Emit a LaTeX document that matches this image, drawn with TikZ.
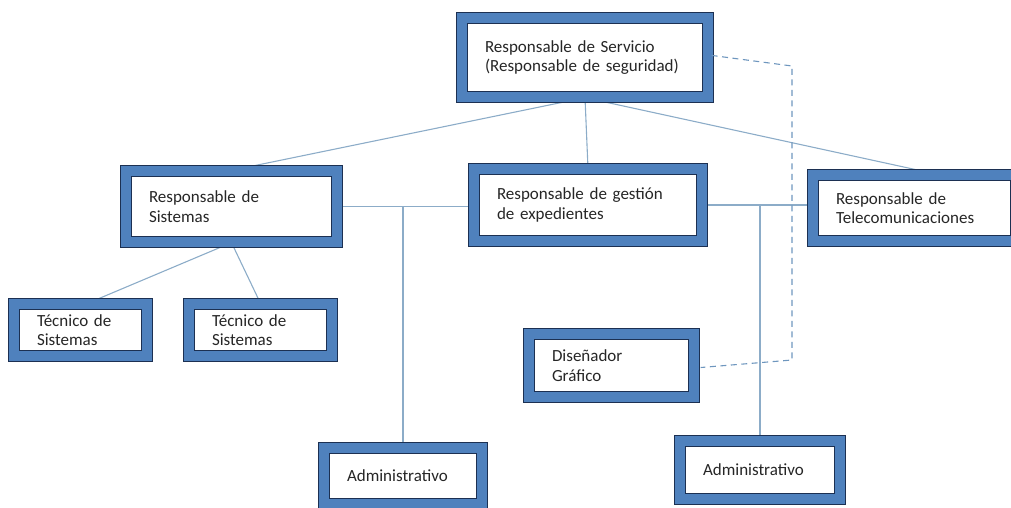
\documentclass[tikz,border=0pt]{standalone}
\usepackage{fontspec}
\setmainfont{Carlito}
\usetikzlibrary{backgrounds}
\definecolor{banda}{RGB}{79,129,189}
\definecolor{marino}{RGB}{28,48,82}
\definecolor{linea}{RGB}{140,172,200}
\definecolor{trazo}{RGB}{110,150,190}

\begin{document}
\begin{tikzpicture}[x = 1pt, y = -1pt,
                        puesto/.style = {rectangle, draw = marino, line width = 1.3pt, double = banda, double distance = 9.4pt,
                                         fill = white, align = left, inner xsep = 23pt, inner ysep = 0pt, text = black!85,
                                         font = \fontsize{17}{19.5}\selectfont},
                        enlace/.style = {draw = linea, line width = 1.1pt}]
    \useasboundingbox (0, 0) rectangle (1011, 507);
    \node [puesto, text width = 200pt, minimum height = 79pt] (serv) at (585, 57.5){Responsable de Servicio\\(Responsable de seguridad)};
    \node [puesto, text width = 165pt, minimum height = 71pt] (sist) at (231.5, 206.5){Responsable de\\Sistemas};
    \node [puesto, text width = 182pt, minimum height = 72pt] (gest) at (588, 205){Responsable de gestión\\de expedientes};
    \node [puesto, text width = 157pt, minimum height = 66pt] (tele) at (914.5, 208){Responsable de\\Telecomunicaciones};
    \node [puesto, text width = 87pt, minimum height = 52pt] (tec1) at (80.5, 330){Técnico de\\Sistemas};
    \node [puesto, text width = 97pt, minimum height = 52pt] (tec2) at (260.5, 330){Técnico de\\Sistemas};
    \node [puesto, text width = 119pt, minimum height = 63pt] (dis) at (611.5, 365.5){Diseñador\\Gráfico};
    \node [puesto, text width = 112pt, minimum height = 56pt] (adm1) at (403, 476){Administrativo};
    \node [puesto, text width = 114pt, minimum height = 58pt] (adm2) at (760, 470){Administrativo};
    \coordinate (c1) at (792, 66);
    \coordinate (c2) at (792, 360);
    \begin{scope}[on background layer]
      \draw [enlace] (serv.south) -- (sist.north);
      \draw [enlace] (serv.south) -- (gest.north);
      \draw [enlace] (serv.south) -- ([xshift = 23pt]tele.north);
      \draw [enlace] (sist.south) -- ([xshift = 7pt]tec1.north);
      \draw [enlace] (sist.south) -- (tec2.north);
      \draw [enlace] (sist.east) -- (sist.east -| gest.west);
      \draw [enlace] (gest.east) -- (gest.east -| tele.west);
      \draw [enlace] (adm1.north) -- (adm1.north |- sist.east);
      \draw [enlace] (adm2.north) -- (adm2.north |- gest.east);
    \end{scope}
    \draw [trazo, line width = 1.1pt, dash pattern = on 6pt off 4.5pt, shorten <= 3pt, shorten >= 6pt]
          ([yshift = 2.5pt]serv.east) -- (c1) -- (c2) -- ([yshift = -2.5pt]dis.east);
  \end{tikzpicture}
\end{document}
